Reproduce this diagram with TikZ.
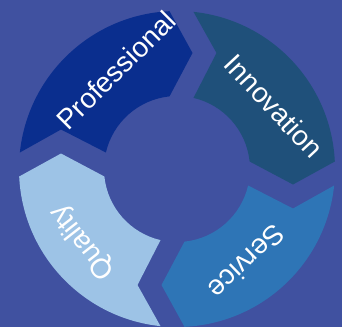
\documentclass[tikz,border=0pt]{standalone}
\usepackage{fontspec}
\setmainfont{Liberation Sans}
\usetikzlibrary{calc}
\definecolor{bgblue}{RGB}{64,81,160}
\definecolor{profblue}{RGB}{10,46,142}
\definecolor{innoblue}{RGB}{31,80,122}
\definecolor{servblue}{RGB}{46,117,182}
\definecolor{qualblue}{RGB}{157,195,230}
\tikzset{
  segtext/.style={text=white, inner sep=0pt, font=\fontsize{28}{32}\selectfont},
}

\begin{document}
\begin{tikzpicture}[x=1pt, y=1pt]
% background and fixed frame
\fill[bgblue] (-177,-158) rectangle (165,169);
\useasboundingbox (-177,-158) rectangle (165,169);

% ring sizes
\def\Ro{158} \def\Ri{73} \def\Rm{116}
\def\sone{16.5} \def\stwo{-7.5} \def\tipd{23}

% four chevron segments, clockwise
\foreach \phis/\col in {180/profblue, 90/innoblue, 0/servblue, -90/qualblue}{
  \pgfmathsetmacro\phie{\phis-90}
  \pgfmathsetmacro\aos{\phis-asin(\sone/\Ro)}
  \pgfmathsetmacro\aoe{\phie-asin(\stwo/\Ro)}
  \pgfmathsetmacro\ais{\phis-asin(\sone/\Ri)}
  \pgfmathsetmacro\aie{\phie-asin(\stwo/\Ri)}
  \pgfmathsetmacro\ts{\phis-90}
  \pgfmathsetmacro\te{\phie-90}
  \pgfmathsetmacro\snotch{\sone+\tipd}
  \pgfmathsetmacro\stip{\stwo+\tipd}
  \fill[\col] (\aos:\Ro) arc[start angle=\aos, end angle=\aoe, radius=\Ro]
    -- ($(\phie:\Rm)+(\te:\stip)$)
    -- (\aie:\Ri) arc[start angle=\aie, end angle=\ais, radius=\Ri]
    -- ($(\phis:\Rm)+(\ts:\snotch)$) -- cycle;
}

\node[segtext, rotate=45] (professional) at (-61,99) {Professional};
\node[segtext, rotate=-47] (innovation) at (97,63) {Innovation};
\node[segtext, rotate=-136] (service) at (70,-93) {Service};
\node[segtext, rotate=128] (quality) at (-94,-73) {Quality};
\end{tikzpicture}
\end{document}
